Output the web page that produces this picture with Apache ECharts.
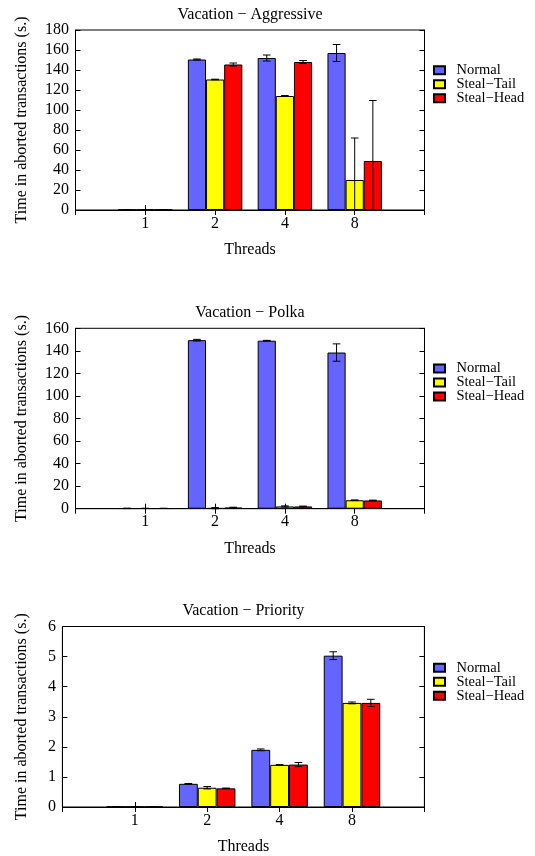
<!DOCTYPE html>
<html><head><meta charset="utf-8">
<script src="https://cdn.jsdelivr.net/npm/echarts@6/dist/echarts.min.js"></script>
<style>html,body{margin:0;padding:0;background:#fff}#c{width:535px;height:856px}</style>
</head><body><div id="c"></div>
<script>
// ---- data ----
const categories = ['1', '2', '4', '8'];
const seriesNames = ['Normal', 'Steal\u2212Tail', 'Steal\u2212Head'];
const chartTitles = ['Vacation \u2212 Aggressive', 'Vacation \u2212 Polka', 'Vacation \u2212 Priority'];
const xAxisTitle = 'Threads';
const yAxisTitle = 'Time in aborted transactions (s.)';

const aggNormal = [0.3, 150.5, 152, 157];
const aggNormalErr = [0.2, 0.5, 3, 8.5];
const aggTail = [0.3, 130.5, 114, 30];
const aggTailErr = [0.2, 0.3, 0.5, 42];
const aggHead = [0.3, 145.5, 148, 49];
const aggHeadErr = [0.2, 1.5, 1.5, 60.5];

const polNormal = [0.3, 149.5, 149, 138.5];
const polNormalErr = [0.2, 0.7, 0.3, 7.7];
const polTail = [0.3, 0.5, 2, 7.5];
const polTailErr = [0.1, 0.5, 0.5, 0.3];
const polHead = [0.3, 1, 2, 7.3];
const polHeadErr = [0.1, 0.3, 0.3, 0.3];

const priNormal = [0.01, 0.77, 1.9, 5.03];
const priNormalErr = [0.005, 0.01, 0.03, 0.13];
const priTail = [0.01, 0.64, 1.4, 3.46];
const priTailErr = [0.005, 0.04, 0.01, 0.03];
const priHead = [0.01, 0.62, 1.41, 3.46];
const priHeadErr = [0.005, 0.01, 0.07, 0.12];

const yMaxes = [180, 160, 6];
const yIntervals = [20, 20, 1];

// ---- style ----
const FONT = "'Liberation Serif', 'DejaVu Serif', serif";
const FS = 16;
const LFS = 14.5;
const colors = ['#6464ff', '#ffff00', '#ff0000'];
const grids = [
  { left: 75.5, top: 30, width: 349, height: 180 },
  { left: 75.5, top: 328.3, width: 349, height: 180.4 },
  { left: 62.4, top: 626.5, width: 362, height: 180.8 }
];
const yNameGaps = [46, 46, 33];
const legendTops = [62.8, 361, 660.2];
const CAT_GAP = 0.22;

const chartData = [
  { vals: [aggNormal, aggTail, aggHead], errs: [aggNormalErr, aggTailErr, aggHeadErr] },
  { vals: [polNormal, polTail, polHead], errs: [polNormalErr, polTailErr, polHeadErr] },
  { vals: [priNormal, priTail, priHead], errs: [priNormalErr, priTailErr, priHeadErr] }
];

const axisCats = [''].concat(categories, ['']);
const pad = arr => [null].concat(arr, [null]);

const option = {
  backgroundColor: '#fff',
  animation: false,
  textStyle: { fontFamily: FONT, color: '#000' },
  grid: [], xAxis: [], yAxis: [], legend: [], series: []
};

chartData.forEach((cd, g) => {
  option.grid.push(Object.assign({ show: true, borderColor: '#000', borderWidth: 1, backgroundColor: 'transparent' }, grids[g]));
  const lineStyle = { color: '#000', width: 1 };
  option.xAxis.push({
    type: 'category', gridIndex: g, position: 'bottom', data: axisCats, boundaryGap: false,
    axisLine: { show: true, lineStyle }, axisTick: { show: true, inside: true, length: 5, lineStyle },
    axisLabel: { color: '#000', fontSize: FS, fontFamily: FONT, margin: 5.5 },
    splitLine: { show: false },
    name: xAxisTitle, nameLocation: 'middle', nameGap: 32,
    nameTextStyle: { color: '#000', fontSize: FS, fontFamily: FONT }
  });
  option.xAxis.push({
    type: 'category', gridIndex: g, position: 'top', data: axisCats, boundaryGap: false,
    axisLine: { show: true, lineStyle }, axisTick: { show: true, inside: true, length: 5, lineStyle },
    axisLabel: { show: false }, splitLine: { show: false },
    name: chartTitles[g], nameLocation: 'middle', nameGap: 7.5,
    nameTextStyle: { color: '#000', fontSize: FS, fontFamily: FONT }
  });
  const yCommon = { type: 'value', gridIndex: g, min: 0, max: yMaxes[g], interval: yIntervals[g] };
  option.yAxis.push(Object.assign({}, yCommon, {
    position: 'left',
    axisLine: { show: true, lineStyle }, axisTick: { show: true, inside: true, length: 5, lineStyle },
    axisLabel: { color: '#000', fontSize: FS, fontFamily: FONT, margin: 6.5 },
    splitLine: { show: false },
    name: yAxisTitle, nameLocation: 'middle', nameGap: yNameGaps[g], nameRotate: 90,
    nameTextStyle: { color: '#000', fontSize: FS, fontFamily: FONT }
  }));
  option.yAxis.push(Object.assign({}, yCommon, {
    position: 'right',
    axisLine: { show: true, lineStyle }, axisTick: { show: true, inside: true, length: 5, lineStyle },
    axisLabel: { show: false }, splitLine: { show: false }
  }));
  option.legend.push({
    orient: 'vertical', left: 433, top: legendTops[g], padding: 0, itemWidth: 11, itemHeight: 8, itemGap: -1,
    icon: 'rect', data: seriesNames.slice(),
    textStyle: { color: '#000', fontSize: LFS, fontFamily: FONT, lineHeight: 13, padding: [0, 0, 0, 6.5] },
    selectedMode: false
  });
  cd.vals.forEach((vals, k) => {
    option.series.push({
      type: 'bar', name: seriesNames[k], xAxisIndex: 2 * g, yAxisIndex: 2 * g,
      data: pad(vals), barGap: '0%', barCategoryGap: (CAT_GAP * 100) + '%',
      itemStyle: { color: colors[k], borderColor: '#000', borderWidth: 1 },
      emphasis: { disabled: true }
    });
  });
  cd.vals.forEach((vals, k) => {
    const errData = vals.map((v, i) => [i + 1, v - cd.errs[k][i], v + cd.errs[k][i]]);
    option.series.push({
      type: 'custom', xAxisIndex: 2 * g, yAxisIndex: 2 * g, z: 5, silent: true,
      data: errData,
      renderItem: (params, api) => {
        const ci = api.value(0);
        const lo = Math.max(api.value(1), 0);
        const hi = api.value(2);
        const band = api.size([1, 0])[0];
        const bw = band * (1 - CAT_GAP) / 3;
        const cx = api.coord([ci, 0])[0] + (k - 1) * bw;
        const yLo = api.coord([ci, lo])[1];
        const yHi = api.coord([ci, hi])[1];
        const cap = 3.8;
        const st = { stroke: '#000', lineWidth: 1 };
        return { type: 'group', children: [
          { type: 'line', shape: { x1: cx, y1: yLo, x2: cx, y2: yHi }, style: st },
          { type: 'line', shape: { x1: cx - cap, y1: yHi, x2: cx + cap, y2: yHi }, style: st },
          { type: 'line', shape: { x1: cx - cap, y1: yLo, x2: cx + cap, y2: yLo }, style: st }
        ]};
      }
    });
  });
});

const chart = echarts.init(document.getElementById('c'), null, { renderer: 'canvas' });
chart.setOption(option);
</script>
</body></html>
